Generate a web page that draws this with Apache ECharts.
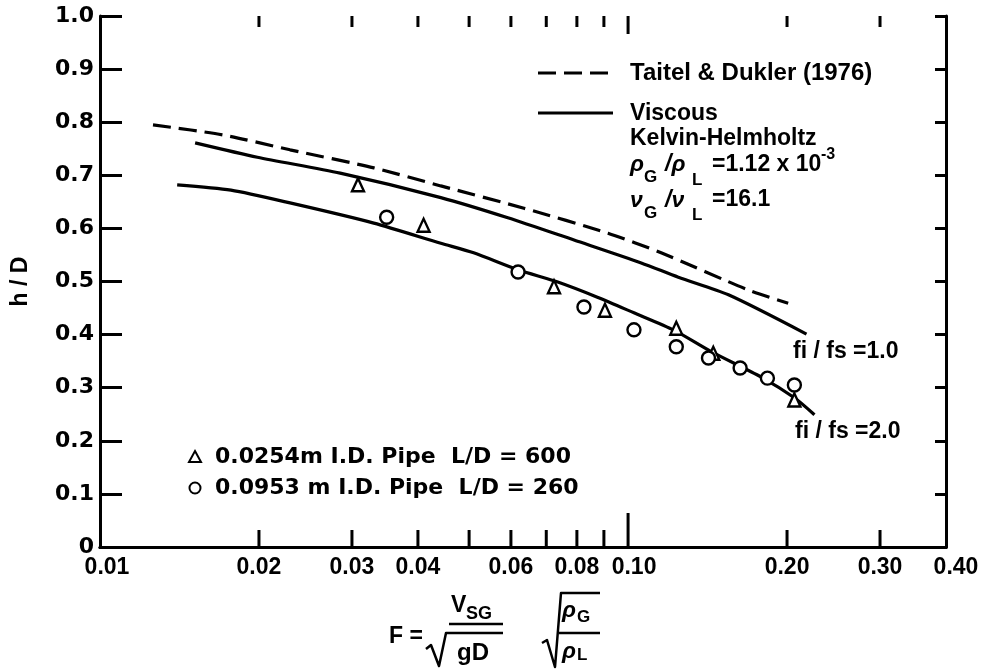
<!DOCTYPE html>
<html>
<head>
<meta charset="utf-8">
<script src="https://cdn.jsdelivr.net/npm/echarts@6/dist/echarts.min.js"></script>
<style>
html,body{margin:0;padding:0;background:#fff;}
#chart{width:991px;height:670px;}
</style>
</head>
<body>
<div id="chart"></div>
<script>
// ---- data ----
const xTickValues = [0.02, 0.03, 0.04, 0.05, 0.06, 0.07, 0.08, 0.09, 0.10, 0.20, 0.30];
const xLabelValues = [0.01, 0.02, 0.03, 0.04, 0.06, 0.08, 0.10, 0.20, 0.30, 0.40];
const xLabelTexts = ['0.01', '0.02', '0.03', '0.04', '0.06', '0.08', '0.10', '0.20', '0.30', '0.40'];
const yMin = 0, yMax = 1.0, yStep = 0.1;

// Taitel & Dukler (1976) — dashed
const taitelDukler = [[0.0126,0.795],[0.0171,0.776],[0.0229,0.748],[0.033,0.714],[0.0442,0.680],[0.0635,0.638],[0.0916,0.591],[0.1155,0.554],[0.169,0.484],[0.201,0.459]];
// Viscous Kelvin-Helmholtz, fi/fs = 1.0
const viscousFi1 = [[0.01514,0.761],[0.01986,0.734],[0.0285,0.704],[0.0442,0.658],[0.0592,0.620],[0.079,0.578],[0.1059,0.535],[0.1245,0.508],[0.1549,0.475],[0.2177,0.401]];
// Viscous Kelvin-Helmholtz, fi/fs = 2.0
const viscousFi2 = [[0.0140,0.682],[0.0177,0.672],[0.0229,0.648],[0.033,0.610],[0.0442,0.572],[0.0510,0.554],[0.0619,0.522],[0.0736,0.499],[0.0877,0.470],[0.1026,0.441],[0.1223,0.408],[0.1437,0.368],[0.1787,0.320],[0.2065,0.281],[0.2254,0.249]];
// 0.0254 m I.D. pipe (triangles)
const pipe0254 = [[0.0308,0.682],[0.0410,0.606],[0.0724,0.490],[0.0904,0.446],[0.1234,0.412],[0.145,0.365],[0.2065,0.277]];
// 0.0953 m I.D. pipe (circles)
const pipe0953 = [[0.0349,0.621],[0.0619,0.518],[0.0825,0.452],[0.1026,0.409],[0.1234,0.377],[0.142,0.356],[0.163,0.337],[0.1836,0.318],[0.2065,0.305]];

const legendTaitel = 'Taitel & Dukler (1976)';
const legendViscous = ['Viscous', 'Kelvin-Helmholtz'];
const legendPipe1 = '0.0254m I.D. Pipe  L/D = 600';
const legendPipe2 = '0.0953 m I.D. Pipe  L/D = 260';
const curveLabel1 = 'fi / fs =1.0';
const curveLabel2 = 'fi / fs =2.0';
const yAxisTitle = 'h / D';

// ---- style ----
const FONT = '"Liberation Sans", Arial, sans-serif';
const WIDE = '"DejaVu Sans", sans-serif';
const INK = '#000';

function T(text, x, y, size, extra) {
  return Object.assign({
    type: 'text', x: x, y: y, z: 10,
    style: Object.assign({
      text: text, fill: INK, font: 'bold ' + size + 'px ' + FONT,
      align: 'left', verticalAlign: 'middle'
    }, (extra && extra.style) || {})
  }, extra && extra.el ? extra.el : {});
}
function L(x1, y1, x2, y2, w, dash) {
  return { type: 'line', z: 10, shape: { x1, y1, x2, y2 },
    style: { stroke: INK, lineWidth: w || 3, lineDash: dash || null } };
}
function P(points, w) {
  return { type: 'polyline', z: 10, shape: { points: points },
    style: { stroke: INK, fill: null, lineWidth: w || 2.5, lineJoin: 'round' } };
}

const chart = echarts.init(document.getElementById('chart'), null, { renderer: 'canvas' });

const axisLineStyle = { show: true, lineStyle: { color: INK, width: 3 } };

const option = {
  backgroundColor: '#fff',
  animation: false,
  grid: { left: 100, right: 45, top: 16, bottom: 123, containLabel: false },
  xAxis: [
    { type: 'log', logBase: 10, min: 0.01, max: 0.4, position: 'bottom',
      axisLine: axisLineStyle, axisTick: { show: false }, axisLabel: { show: false },
      splitLine: { show: false }, minorTick: { show: false } },
    { type: 'log', logBase: 10, min: 0.01, max: 0.4, position: 'top',
      axisLine: axisLineStyle, axisTick: { show: false }, axisLabel: { show: false },
      splitLine: { show: false } }
  ],
  yAxis: [
    { type: 'value', min: yMin, max: yMax, interval: yStep, position: 'left',
      axisLine: axisLineStyle,
      axisTick: { show: true, inside: true, length: 22, lineStyle: { color: INK, width: 3 } },
      axisLabel: { show: true, margin: 6, color: INK, fontFamily: WIDE, fontWeight: 'bold', fontSize: 22,
        formatter: v => (Math.abs(v) < 1e-9 ? '0' : v.toFixed(1)) },
      splitLine: { show: false },
      name: yAxisTitle, nameLocation: 'middle', nameGap: 68, nameRotate: 90,
      nameTextStyle: { color: INK, fontFamily: FONT, fontWeight: 'bold', fontSize: 23 } },
    { type: 'value', min: yMin, max: yMax, interval: yStep, position: 'right',
      axisLine: axisLineStyle,
      axisTick: { show: true, inside: true, length: 11, lineStyle: { color: INK, width: 3 } },
      axisLabel: { show: false }, splitLine: { show: false } }
  ],
  series: [
    { name: 'Taitel & Dukler (1976)', type: 'line', data: taitelDukler, smooth: 0.25,
      showSymbol: false, symbol: 'none', z: 3,
      lineStyle: { color: INK, width: 3.2, type: [18, 8] } },
    { name: 'Viscous K-H fi/fs=1.0', type: 'line', data: viscousFi1, smooth: 0.25,
      showSymbol: false, symbol: 'none', z: 3,
      lineStyle: { color: INK, width: 3.2 } },
    { name: 'Viscous K-H fi/fs=2.0', type: 'line', data: viscousFi2, smooth: 0.25,
      showSymbol: false, symbol: 'none', z: 3,
      lineStyle: { color: INK, width: 3.2 } },
    { name: '0.0254m I.D. Pipe', type: 'scatter', data: pipe0254, symbol: 'triangle', symbolSize: [12, 13], z: 5,
      itemStyle: { color: '#fff', borderColor: INK, borderWidth: 2.4, opacity: 1 } },
    { name: '0.0953m I.D. Pipe', type: 'scatter', data: pipe0953, symbol: 'circle', symbolSize: 13, z: 5,
      itemStyle: { color: '#fff', borderColor: INK, borderWidth: 2.4, opacity: 1 } },
    // x-axis ticks (bottom and top), drawn through the log scale
    { type: 'custom', z: 6, silent: true, clip: false,
      data: xTickValues.map(v => [v, yMin]),
      renderItem: function (params, api) {
        const v = api.value(0);
        const b = api.coord([v, yMin]);
        const t = api.coord([v, yMax]);
        const major = Math.abs(v - 0.1) < 1e-9;
        const lb = major ? 34 : 17;
        const lt = major ? 18 : 11;
        return { type: 'group', children: [
          { type: 'line', shape: { x1: b[0], y1: b[1], x2: b[0], y2: b[1] - lb }, style: { stroke: INK, lineWidth: 3 } },
          { type: 'line', shape: { x1: t[0], y1: t[1], x2: t[0], y2: t[1] + lt }, style: { stroke: INK, lineWidth: 3 } }
        ] };
      } },
    // x-axis tick labels
    { type: 'custom', z: 6, silent: true, clip: false,
      data: xLabelValues.map(v => [v, yMin]),
      renderItem: function (params, api) {
        const v = api.value(0);
        const p = api.coord([v, yMin]);
        const i = params.dataIndex;
        let shift = 0;
        if (i === 0) shift = 7;
        else if (Math.abs(v - 0.1) < 1e-9) shift = 6;
        else if (i === xLabelValues.length - 1) shift = 10;
        return { type: 'text', x: p[0] + shift, y: p[1] + 21,
          style: { text: xLabelTexts[i], fill: INK, font: 'bold 23px ' + FONT, align: 'center', verticalAlign: 'middle' } };
      } }
  ],
  graphic: [
    // upper legend
    L(538, 73, 613, 73, 3, [18, 8]),
    T(legendTaitel, 630, 73, 24),
    L(538, 113, 613, 113, 3),
    T(legendViscous[0], 630, 114, 23),
    T(legendViscous[1], 630, 139, 23),
    T('ρ', 630, 165, 23, { style: { font: 'italic bold 23px ' + FONT } }),
    T('G', 644, 177, 17),
    T('/ρ', 665, 165, 23, { style: { font: 'italic bold 23px ' + FONT } }),
    T('L', 692, 180, 17),
    T('=1.12 x 10', 712, 165, 23),
    T('-3', 821, 155, 16),
    T('ν', 630, 201, 23, { style: { font: 'italic bold 23px ' + FONT } }),
    T('G', 644, 213, 17),
    T('/ν', 665, 201, 23, { style: { font: 'italic bold 23px ' + FONT } }),
    T('L', 692, 215, 17),
    T('=16.1', 712, 200, 23),
    // curve labels
    T(curveLabel1, 793, 352, 23),
    T(curveLabel2, 795, 432, 23),
    // lower legend
    { type: 'polygon', z: 10, shape: { points: [[195, 451], [201, 462], [189, 462]] },
      style: { fill: '#fff', stroke: INK, lineWidth: 2 } },
    T(legendPipe1, 215, 457, 22, { style: { font: 'bold 22px ' + WIDE } }),
    { type: 'circle', z: 10, shape: { cx: 195, cy: 488, r: 5.5 },
      style: { fill: '#fff', stroke: INK, lineWidth: 2 } },
    T(legendPipe2, 215, 488, 22, { style: { font: 'bold 22px ' + WIDE } }),
    // x-axis title formula
    T('F =', 389, 637, 23),
    T('V', 451, 606, 23),
    T('SG', 466, 614, 18),
    L(449, 624, 503, 624, 2.5),
    P([[426, 649], [431, 645], [439, 666], [446, 633], [503, 633]], 2.5),
    T('gD', 457, 653, 24),
    P([[542, 643], [547, 640], [555, 667], [561, 593], [600, 593]], 2.5),
    T('ρ', 562, 611, 23, { style: { font: 'italic bold 23px ' + FONT } }),
    T('G', 577, 617, 17),
    L(559, 633, 600, 633, 2.5),
    T('ρ', 562, 652, 23, { style: { font: 'italic bold 23px ' + FONT } }),
    T('L', 577, 655, 17)
  ]
};
chart.setOption(option);
</script>
</body>
</html>
